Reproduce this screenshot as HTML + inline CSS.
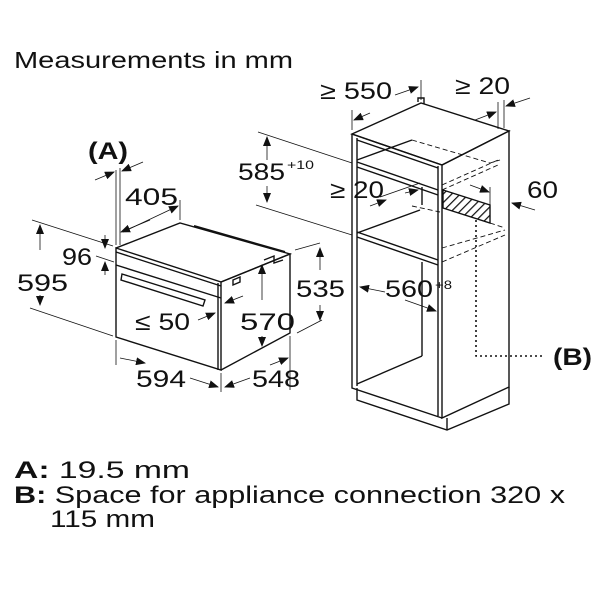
<!DOCTYPE html>
<html><head><meta charset="utf-8"><style>
html,body{margin:0;padding:0;background:#fff;}
svg{display:block;}
text{font-family:"Liberation Sans",sans-serif;fill:#111;}
</style></head><body>
<svg width="600" height="600" viewBox="0 0 600 600" xmlns="http://www.w3.org/2000/svg">
<defs>
<marker id="ar" markerWidth="10" markerHeight="8" refX="9" refY="4" orient="auto" markerUnits="userSpaceOnUse"><path d="M0,0 L10,4 L0,8 z" fill="#111"/></marker>
<pattern id="h" width="6" height="6" patternUnits="userSpaceOnUse" patternTransform="rotate(45)"><line x1="0" y1="0" x2="0" y2="6" stroke="#111" stroke-width="2.5"/></pattern>
</defs>
<text x="14" y="68" font-size="23" textLength="279" lengthAdjust="spacingAndGlyphs">Measurements in mm</text>

<g stroke="#111" stroke-width="1.4" fill="none">
<path d="M116,248 L221,282 L221,370 L116,337 Z" fill="#fff"/>
<path d="M116,248 L180,223 L290,254 L221,282"/>
<path d="M221,282 L290,254 L290,333 L221,370"/>
<path d="M116,265 L221,298"/>
<path d="M116,252 L221,286"/>
<path d="M122,274 L205,300 L203,306 L121,280 Z"/>
<path d="M218,283 L218,370" />
<path d="M264,260 L274,256 L274,263 L283,260"/>
<path d="M233,280 L240,277 L240,282 L233,285 Z"/>
<path d="M194,226 L285,252" stroke-width="2"/>
</g>
<g stroke="#111" stroke-width="0.8" fill="none">
<line x1="32" y1="220" x2="113" y2="246"/>
<line x1="30" y1="308" x2="113" y2="336"/>
<line x1="116" y1="340" x2="116" y2="365"/>
<line x1="221" y1="373" x2="221" y2="392"/>
<line x1="290" y1="336" x2="290" y2="390"/>
<line x1="180" y1="200" x2="180" y2="220"/>
<line x1="116" y1="170" x2="116" y2="245"/>
<line x1="120" y1="168" x2="120" y2="245"/>
<line x1="295" y1="250" x2="320" y2="243"/>
<line x1="297" y1="333" x2="322" y2="320"/>
<line x1="40" y1="250" x2="40" y2="225" marker-end="url(#ar)"/>
<line x1="40" y1="295" x2="40" y2="305" marker-end="url(#ar)"/>
<line x1="123" y1="232" x2="178" y2="206" marker-end="url(#ar)"/>
<line x1="150" y1="220" x2="121" y2="232" marker-end="url(#ar)"/>
<line x1="95" y1="180" x2="114" y2="172" marker-end="url(#ar)"/>
<line x1="143" y1="162" x2="122" y2="171" marker-end="url(#ar)"/>
<line x1="105" y1="235" x2="105" y2="248" marker-end="url(#ar)"/>
<line x1="105" y1="275" x2="105" y2="262" marker-end="url(#ar)"/>
<line x1="96" y1="256" x2="114" y2="262"/>
<line x1="120" y1="358" x2="145" y2="363" marker-end="url(#ar)"/>
<line x1="190" y1="378" x2="218" y2="387" marker-end="url(#ar)"/>
<line x1="250" y1="378" x2="225" y2="387" marker-end="url(#ar)"/>
<line x1="270" y1="365" x2="288" y2="358" marker-end="url(#ar)"/>
<line x1="198" y1="320" x2="215" y2="313" marker-end="url(#ar)"/>
<line x1="243" y1="296" x2="225" y2="303" marker-end="url(#ar)"/>
<line x1="262" y1="300" x2="262" y2="265" marker-end="url(#ar)"/>
<line x1="262" y1="336" x2="262" y2="346" marker-end="url(#ar)"/>
<line x1="320" y1="270" x2="320" y2="248" marker-end="url(#ar)"/>
<line x1="320" y1="305" x2="320" y2="320" marker-end="url(#ar)"/>
<line x1="258" y1="132" x2="352" y2="163"/>
<line x1="256" y1="205" x2="352" y2="235"/>
<line x1="267" y1="160" x2="267" y2="137" marker-end="url(#ar)"/>
<line x1="267" y1="186" x2="267" y2="202" marker-end="url(#ar)"/>
</g>

<g stroke="#111" stroke-width="1.4" fill="none">
<path d="M352,134 L421,103 L509,131 L442,165 Z" fill="#fff"/>
<path d="M442,165 L509,131 L509,387 L442,418 Z"/>
<path d="M352,134 L352,388 L442,418"/>
<path d="M357,138 L357,386"/>
<path d="M438,166 L438,416"/>
<path d="M352,134 L442,165"/>
<path d="M357,140 L438,168"/>
<path d="M357,162 L438,190"/>
<path d="M357,167 L438,195"/>
<path d="M357,232 L438,260"/>
<path d="M357,237 L438,265"/>
<path d="M357,160 L412,140"/>
<path d="M357,233 L420,210"/>
<path d="M357,384 L422,356"/>
<path d="M422,262 L422,356"/>
<path d="M422,187 L422,205"/>
<path d="M357,388 L357,400 L447,430 L509,404 L509,387"/>
<path d="M447,418 L447,430"/>
<path d="M418,102 L418,98 L424,98 L424,104"/>
</g>
<path d="M443,190 L490,205 L490,223 L443,208 Z" fill="url(#h)" stroke="#111" stroke-width="1.4"/>
<g stroke="#111" stroke-width="0.9" fill="none" stroke-dasharray="5,3">
<path d="M412,140 L490,163 L500,160"/>
<path d="M442,185 L498,160"/>
<path d="M442,190 L498,165"/>
<path d="M442,248 L505,230"/>
<path d="M442,262 L505,235"/>
<path d="M412,206 L440,212"/>
<path d="M490,223 L505,228"/>
</g>
<g stroke="#111" stroke-width="0.8" fill="none">
<line x1="352" y1="130" x2="352" y2="110"/>
<line x1="421" y1="100" x2="421" y2="80"/>
<line x1="498" y1="129" x2="498" y2="102"/>
<line x1="504" y1="128" x2="504" y2="100"/>
<line x1="395" y1="95" x2="418" y2="87" marker-end="url(#ar)"/>
<line x1="370" y1="113" x2="354" y2="120" marker-end="url(#ar)"/>
<line x1="475" y1="120" x2="496" y2="112" marker-end="url(#ar)"/>
<line x1="530" y1="98" x2="506" y2="106" marker-end="url(#ar)"/>
<line x1="535" y1="210" x2="512" y2="203" marker-end="url(#ar)"/>
<line x1="490" y1="187" x2="490" y2="205"/>
<line x1="470" y1="185" x2="489" y2="192" marker-end="url(#ar)"/>
<line x1="370" y1="206" x2="386" y2="200" marker-end="url(#ar)"/>
<line x1="380" y1="197" x2="420" y2="183"/>
<line x1="405" y1="193" x2="418" y2="190" marker-end="url(#ar)"/>
<line x1="385" y1="292" x2="360" y2="287" marker-end="url(#ar)"/>
<line x1="405" y1="300" x2="436" y2="311" marker-end="url(#ar)"/>
<path d="M476,220 L476,356 L545,356" stroke-dasharray="2,3" stroke-width="1.6"/>
</g>

<g font-size="24" lengthAdjust="spacingAndGlyphs">
<text x="88" y="159" font-weight="bold" textLength="40" lengthAdjust="spacingAndGlyphs">(A)</text>
<text x="125" y="205" textLength="53" lengthAdjust="spacingAndGlyphs">405</text>
<text x="62" y="265" textLength="30" lengthAdjust="spacingAndGlyphs">96</text>
<text x="17" y="291" textLength="51" lengthAdjust="spacingAndGlyphs">595</text>
<text x="135" y="330" textLength="55" lengthAdjust="spacingAndGlyphs">≤ 50</text>
<text x="240" y="330" textLength="55" lengthAdjust="spacingAndGlyphs">570</text>
<text x="136" y="387" textLength="50" lengthAdjust="spacingAndGlyphs">594</text>
<text x="252" y="387" textLength="48" lengthAdjust="spacingAndGlyphs">548</text>
<text x="238" y="180" textLength="47" lengthAdjust="spacingAndGlyphs">585</text><text x="287" y="169" font-size="12" textLength="27" lengthAdjust="spacingAndGlyphs">+10</text>
<text x="296" y="297" textLength="49" lengthAdjust="spacingAndGlyphs">535</text>
<text x="385" y="297" textLength="48" lengthAdjust="spacingAndGlyphs">560</text><text x="435" y="289" font-size="12" textLength="17" lengthAdjust="spacingAndGlyphs">+8</text>
<text x="330" y="198" textLength="54" lengthAdjust="spacingAndGlyphs">≥ 20</text>
<text x="320" y="99" textLength="72" lengthAdjust="spacingAndGlyphs">≥ 550</text>
<text x="455" y="94" textLength="55" lengthAdjust="spacingAndGlyphs">≥ 20</text>
<text x="527" y="198" textLength="31" lengthAdjust="spacingAndGlyphs">60</text>
<text x="553" y="365" font-weight="bold" textLength="39" lengthAdjust="spacingAndGlyphs">(B)</text>
<text x="14" y="478" textLength="176" lengthAdjust="spacingAndGlyphs"><tspan font-weight="bold">A:</tspan> 19.5 mm</text>
<text x="14" y="503" textLength="551" lengthAdjust="spacingAndGlyphs"><tspan font-weight="bold">B:</tspan> Space for appliance connection 320 x</text>
<text x="50" y="527" textLength="105" lengthAdjust="spacingAndGlyphs">115 mm</text>
</g>
</svg>
</body></html>
